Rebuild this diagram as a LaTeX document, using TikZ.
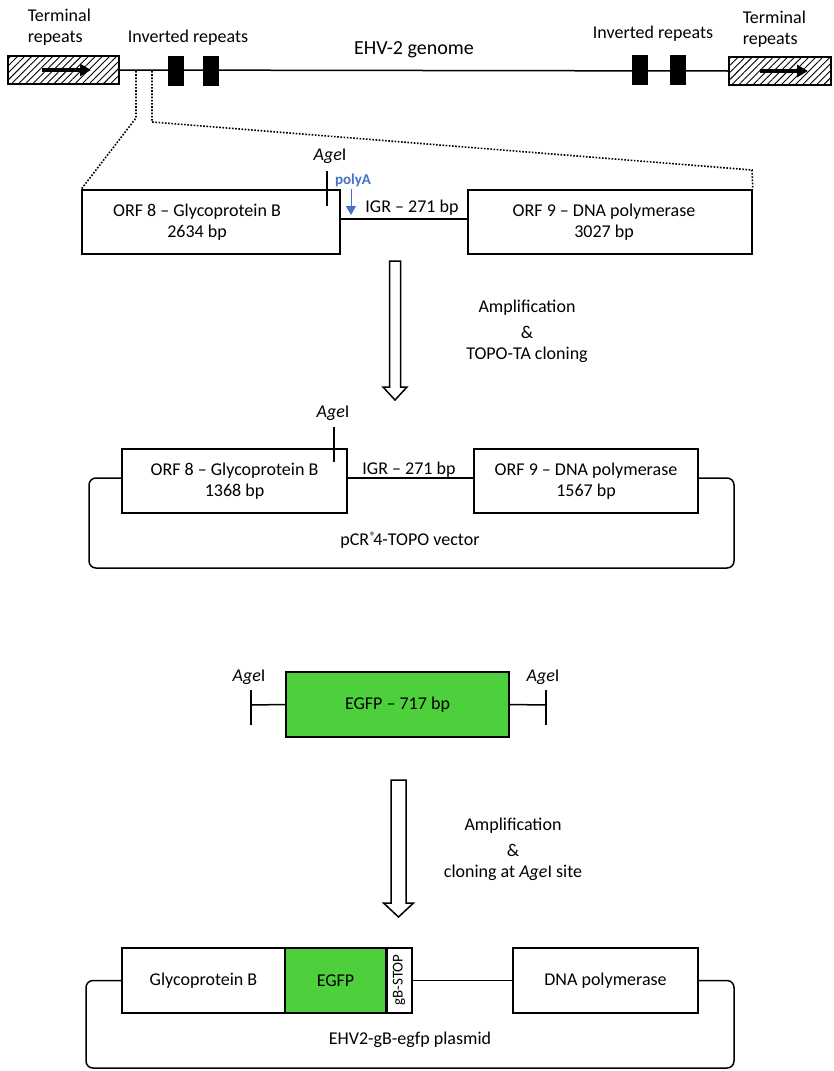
\documentclass[tikz,border=0pt]{standalone}
\usepackage{fontspec}
\setmainfont{Carlito}
\usetikzlibrary{arrows.meta,patterns.meta}
\definecolor{egfpgreen}{RGB}{77,208,59}
\definecolor{pablue}{RGB}{68,114,196}
\begin{document}
\begin{tikzpicture}[x=1pt,y=-1pt,font=\fontsize{18}{21}\selectfont,line width=1.5pt,
  box/.style={draw,line width=1.6pt,inner sep=0pt,align=center,fill=white},
  lbl/.style={inner sep=0pt,align=center},
  hatchbox/.style={draw,line width=1.6pt,inner sep=0pt,minimum height=28pt,
     pattern={Lines[angle=45,distance=5pt,line width=0.9pt]}},
  irbox/.style={draw,fill=black,inner sep=0pt,minimum width=15pt,minimum height=28pt},
  boldarrow/.style={line width=3.5pt,-{Triangle[length=11pt,width=12pt]}},
  tick/.style={line width=1.5pt},
  loop/.style={line width=1.5pt,rounded corners=7pt},
  dots/.style={line width=1.6pt,dash pattern=on 1.6pt off 1.6pt},
  hollow/.style={draw,line width=1.5pt,fill=white,line join=miter},
  agel/.style={inner sep=0pt}
]
\useasboundingbox (0,0) rectangle (833,1071);

% ---------------- genome ----------------
\node[hatchbox,minimum width=111pt] (trL) at (63.5,70) {};
\node[hatchbox,minimum width=102pt] (trR) at (780,71) {};
\draw (trL.east) -- (trR.west);
\draw[boldarrow] (42,70) -- (91,70);
\draw[boldarrow] (760,71) -- (808,71);
\node[irbox] (ir1) at (176,71) {};
\node[irbox] (ir2) at (211,71) {};
\node[irbox] (ir3) at (640,70) {};
\node[irbox] (ir4) at (678,70) {};
\node[lbl,align=left,anchor=west] (tl1) at (27,27) {Terminal\\repeats};
\node[lbl,align=left,anchor=west] (tl2) at (742,29) {Terminal\\repeats};
\node[lbl] (il1) at (188,38) {Inverted repeats};
\node[lbl] (il2) at (653,34) {Inverted repeats};
\node[lbl,font=\fontsize{20}{23}\selectfont] (gen) at (414,50) {EHV-2 genome};

% ---------------- ORF region ----------------
\node[box,minimum width=258pt,minimum height=64pt] (orf8) at (211,222) {};
\node[box,minimum width=284pt,minimum height=64pt] (orf9) at (610,222) {};
\node[lbl] (orf8t) at (197,222) {ORF 8 -- Glycoprotein B\\2634 bp};
\node[lbl] (orf9t) at (604,222) {ORF 9 -- DNA polymerase\\3027 bp};
\draw ([yshift=3pt]orf8.east) -- ([yshift=3pt]orf9.west);
\node[lbl] (igr1) at (412,208) {IGR -- 271 bp};
\coordinate (t1a) at (327,171); \coordinate (t1b) at (327,206);
\draw[tick] (t1a) -- (t1b);
\node[agel] (age1) at (330,156) {\textit{Age}I};
\node[lbl,text=pablue,font=\fontsize{15}{17}\selectfont\bfseries] (polyA) at (353,180) {polyA};
\coordinate (pa1) at (351,189); \coordinate (pa2) at (351,215);
\draw[pablue,line width=1pt,-{Triangle[length=9pt,width=10pt]}] (pa1) -- (pa2);

% dotted zoom lines
\coordinate (d1a) at (136,71); \coordinate (d1b) at (136,118);
\coordinate (d2a) at (152,71); \coordinate (d2b) at (152,122); \coordinate (d2c) at (752,170);
\draw[dots] (d1a) -- (d1b) -- (orf8.north west);
\draw[dots] (d2a) -- (d2b) -- (d2c) -- (orf9.north east);

% hollow arrow 1
\draw[hollow] (389.5,261) -- (400.5,261) -- (400.5,387) -- (407,387) -- (395,400) -- (383,387) -- (389.5,387) -- cycle;
\node[lbl] (amp1) at (527,308) {Amplification};
\node[lbl] (amp1b) at (527,332) {\&};
\node[lbl] (amp1c) at (527,355) {TOPO-TA cloning};

% ---------------- TOPO vector ----------------
\node[box,minimum width=225pt,minimum height=64pt] (orf8b) at (234.5,481) {ORF 8 -- Glycoprotein B\\1368 bp};
\node[box,minimum width=224pt,minimum height=64pt] (orf9b) at (586,481) {ORF 9 -- DNA polymerase\\1567 bp};
\draw ([yshift=3pt]orf8b.east) -- ([yshift=3pt]orf9b.west);
\node[lbl] (igr2) at (409,470) {IGR -- 271 bp};
\coordinate (t2a) at (334,427); \coordinate (t2b) at (334,462);
\draw[tick] (t2a) -- (t2b);
\node[agel] (age2) at (333,413) {\textit{Age}I};
\draw[loop] ([yshift=3pt]orf8b.west) -- (89,478) -- (89,568) -- (734,568) -- (734,478) -- ([yshift=3pt]orf9b.east);
\node[lbl] (vec) at (410,540) {pCR\kern0.5pt{\fontsize{12}{12}\selectfont\raisebox{5pt}{®}}\kern-2.5pt 4-TOPO vector};

% ---------------- EGFP insert ----------------
\node[box,fill=egfpgreen,minimum width=223pt,minimum height=65pt] (egfp) at (397.5,704.5) {EGFP -- 717 bp};
\coordinate (eL) at (251,705); \coordinate (eR) at (546,705);
\draw (egfp.west) -- (eL);
\draw (egfp.east) -- (eR);
\coordinate (eLa) at (251,690); \coordinate (eLb) at (251,725);
\coordinate (eRa) at (546,690); \coordinate (eRb) at (546,725);
\draw[tick] (eLa) -- (eLb);
\draw[tick] (eRa) -- (eRb);
\node[agel] (age3) at (249,677) {\textit{Age}I};
\node[agel] (age4) at (543,677) {\textit{Age}I};

% hollow arrow 2
\draw[hollow] (391,780) -- (406,780) -- (406,903) -- (413.5,903) -- (398.5,917) -- (383.5,903) -- (391,903) -- cycle;
\node[lbl] (amp2) at (513,826) {Amplification};
\node[lbl] (amp2b) at (513,850) {\&};
\node[lbl] (amp2c) at (513,873) {cloning at \textit{Age}I site};

% ---------------- final plasmid ----------------
\node[box,minimum width=163pt,minimum height=65pt] (gbB) at (203.5,980.5) {Glycoprotein B};
\node[box,fill=egfpgreen,minimum width=101pt,minimum height=65pt] (egfp2) at (335.5,980.5) {EGFP};
\node[box,minimum width=26pt,minimum height=65pt] (stop) at (399,980.5) {};
\node[lbl,rotate=90,font=\fontsize{15}{17}\selectfont] (stopt) at (399,980) {gB-STOP};
\node[box,minimum width=185pt,minimum height=65pt] (dnapol) at (605.5,980.5) {DNA polymerase};
\draw[line width=3pt] (egfp2.north east) -- (egfp2.south east);
\draw (stop.east) -- (dnapol.west);
\draw[loop] (gbB.west) -- (86,980.5) -- (86,1068) -- (734,1068) -- (734,980.5) -- (dnapol.east);
\node[lbl] (plas) at (410,1040) {EHV2-gB-egfp plasmid};
\end{tikzpicture}
\end{document}
